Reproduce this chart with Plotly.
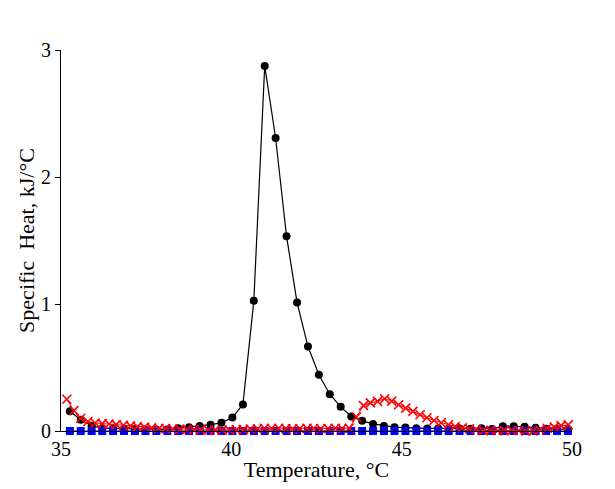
import plotly.graph_objects as go

# Temperature grid for black (circles) and blue (squares) series, °C
t_grid = [35.26, 35.58, 35.90, 36.21, 36.53, 36.85, 37.17, 37.48, 37.80, 38.12,
          38.44, 38.76, 39.07, 39.39, 39.71, 40.03, 40.34, 40.66, 40.98, 41.30,
          41.62, 41.93, 42.25, 42.57, 42.89, 43.21, 43.52, 43.84, 44.16, 44.48,
          44.79, 45.11, 45.43, 45.75, 46.07, 46.38, 46.70, 47.02, 47.34, 47.65,
          47.97, 48.29, 48.61, 48.93, 49.24, 49.56, 49.88]

black_vals = [0.155, 0.088, 0.042, 0.022, 0.02, 0.018, 0.015, 0.012, 0.01, 0.012,
              0.022, 0.03, 0.04, 0.05, 0.064, 0.106, 0.209, 1.025, 2.875, 2.307,
              1.534, 1.011, 0.665, 0.443, 0.29, 0.19, 0.115, 0.08, 0.056, 0.04,
              0.03, 0.027, 0.022, 0.02, 0.02, 0.02, 0.02, 0.018, 0.022, 0.015,
              0.038, 0.038, 0.033, 0.025, 0.018, 0.015, 0.015]

blue_vals = [0.0] * 47

# Temperature grid for red (crosses) series, °C
t_red = [35.17, 35.38, 35.58, 35.79, 36.00, 36.21, 36.41, 36.62, 36.83, 37.04,
         37.24, 37.45, 37.66, 37.87, 38.07, 38.28, 38.49, 38.69, 38.90, 39.11,
         39.32, 39.52, 39.73, 39.94, 40.15, 40.35, 40.56, 40.77, 40.97, 41.18,
         41.39, 41.60, 41.80, 42.01, 42.22, 42.42, 42.63, 42.84, 43.05, 43.25,
         43.46, 43.67, 43.88, 44.08, 44.29, 44.50, 44.71, 44.91, 45.12, 45.33,
         45.54, 45.74, 45.95, 46.16, 46.37, 46.57, 46.78, 46.99, 47.19, 47.40,
         47.61, 47.82, 48.02, 48.23, 48.44, 48.65, 48.85, 49.06, 49.27, 49.48,
         49.68, 49.89]

red_vals = [0.25, 0.16, 0.10, 0.075, 0.063, 0.058, 0.055, 0.05, 0.045, 0.04,
            0.035, 0.03, 0.025, 0.02, 0.02, 0.018, 0.015, 0.012, 0.012, 0.01,
            0.008, 0.008, 0.008, 0.008, 0.01, 0.012, 0.015, 0.018, 0.022, 0.02,
            0.022, 0.02, 0.018, 0.02, 0.022, 0.02, 0.018, 0.02, 0.022, 0.02,
            0.022, 0.11, 0.20, 0.222, 0.233, 0.254, 0.235, 0.207, 0.18, 0.154,
            0.128, 0.104, 0.083, 0.065, 0.049, 0.035, 0.025, 0.018, 0.012, 0.003,
            0.005, 0.002, 0.004, 0.004, 0.004, 0.0, 0.0, 0.01, 0.022, 0.03,
            0.042, 0.048]

x_ticks = [35, 40, 45, 50]
y_ticks = [0, 1, 2, 3]

fig = go.Figure()
fig.add_trace(go.Scatter(x=t_grid, y=black_vals, mode="lines+markers",
                         line=dict(color="black", width=1.2),
                         marker=dict(symbol="circle", size=8, color="black"),
                         cliponaxis=False, showlegend=False))
fig.add_trace(go.Scatter(x=t_grid, y=blue_vals, mode="lines+markers",
                         line=dict(color="blue", width=1),
                         marker=dict(symbol="square", size=8, color="blue"),
                         cliponaxis=False, showlegend=False))
fig.add_trace(go.Scatter(x=t_red, y=red_vals, mode="lines+markers",
                         line=dict(color="red", width=1),
                         marker=dict(symbol="x-thin", size=9,
                                     line=dict(color="red", width=1.6)),
                         cliponaxis=False, showlegend=False))

font = "Liberation Serif, Times New Roman, serif"
fig.update_layout(
    width=615, height=489,
    margin=dict(l=61, r=43, t=50, b=58),
    paper_bgcolor="white", plot_bgcolor="white",
    font=dict(family=font, size=20, color="black"),
    xaxis=dict(range=[35, 50], tickvals=x_ticks, ticktext=[str(v) for v in x_ticks],
               showgrid=False, zeroline=False, showline=True, linecolor="black",
               linewidth=1, ticks="", tickfont=dict(size=20),
               title=dict(text="Temperature, °C", font=dict(size=22), standoff=2)),
    yaxis=dict(range=[0, 3], tickvals=y_ticks, ticktext=[str(v) for v in y_ticks],
               showgrid=False, zeroline=False, showline=True, linecolor="black",
               linewidth=1, ticks="outside", ticklen=5, tickcolor="black",
               tickfont=dict(size=20),
               title=dict(text="Specific  Heat, kJ/°C", font=dict(size=22), standoff=0)),
)

fig.write_html("out.html")
